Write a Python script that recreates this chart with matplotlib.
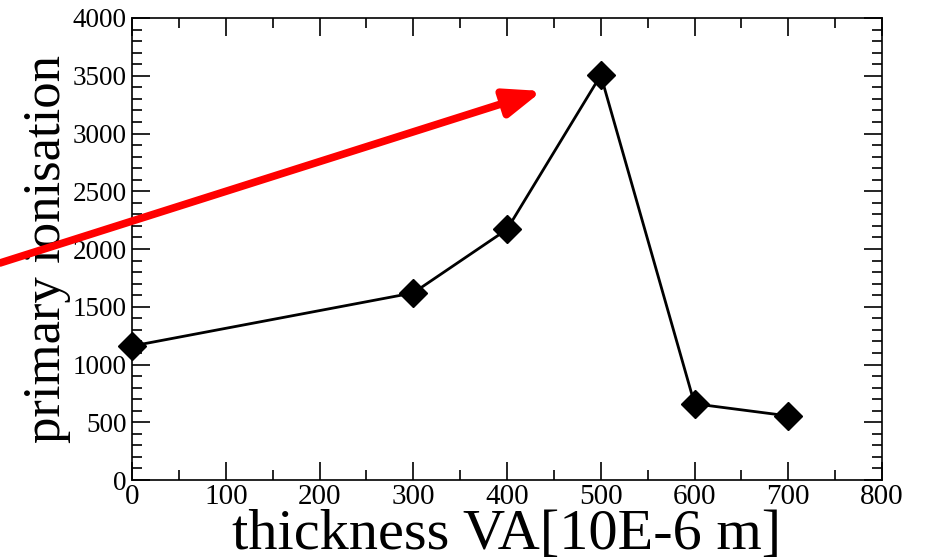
import numpy as np
import matplotlib
matplotlib.use("Agg")
import matplotlib.pyplot as plt
from matplotlib.ticker import MultipleLocator

thickness = [0, 300, 400, 500, 600, 700]
ionisation = [1160, 1620, 2170, 3505, 660, 555]

plt.rcParams['font.family'] = ['Liberation Serif', 'DejaVu Serif']

fig = plt.figure(figsize=(9.27, 5.59), dpi=100)
ax = fig.add_axes([0.1424, 0.1413, 0.8091, 0.8265])

ax.plot(thickness, ionisation, color='black', lw=2.0, marker='D',
        markersize=14, markerfacecolor='black', markeredgecolor='black',
        clip_on=False, zorder=3)

ax.set_xlim(0, 800)
ax.set_ylim(0, 4000)
ax.xaxis.set_major_locator(MultipleLocator(100))
ax.xaxis.set_minor_locator(MultipleLocator(50))
ax.yaxis.set_major_locator(MultipleLocator(500))
ax.yaxis.set_minor_locator(MultipleLocator(100))
ax.tick_params(which='both', direction='in', top=True, right=True)
ax.tick_params(axis='x', labelsize=21, pad=3)
ax.tick_params(axis='y', labelsize=19.5, pad=4)
ax.tick_params(which='major', length=13, width=1.2)
ax.tick_params(which='minor', length=7, width=1.2)
for s in ax.spines.values():
    s.set_linewidth(1.2)

ax.set_xlabel("thickness VA[10E-6 m]", fontsize=42, labelpad=-1)
ax.set_ylabel("primary ionisation", fontsize=38, labelpad=1)

# red arrow (figure coordinates)
ax.annotate("", xy=(542 / 927, 1 - 91 / 559), xycoords='figure fraction',
            xytext=(0.0, 1 - 263 / 559), textcoords='figure fraction',
            arrowprops=dict(arrowstyle='-|>,head_length=2.2,head_width=0.85',
                            color='red', lw=5.5, shrinkA=0, shrinkB=0),
            annotation_clip=False)

fig.savefig("out.png", dpi=100)
